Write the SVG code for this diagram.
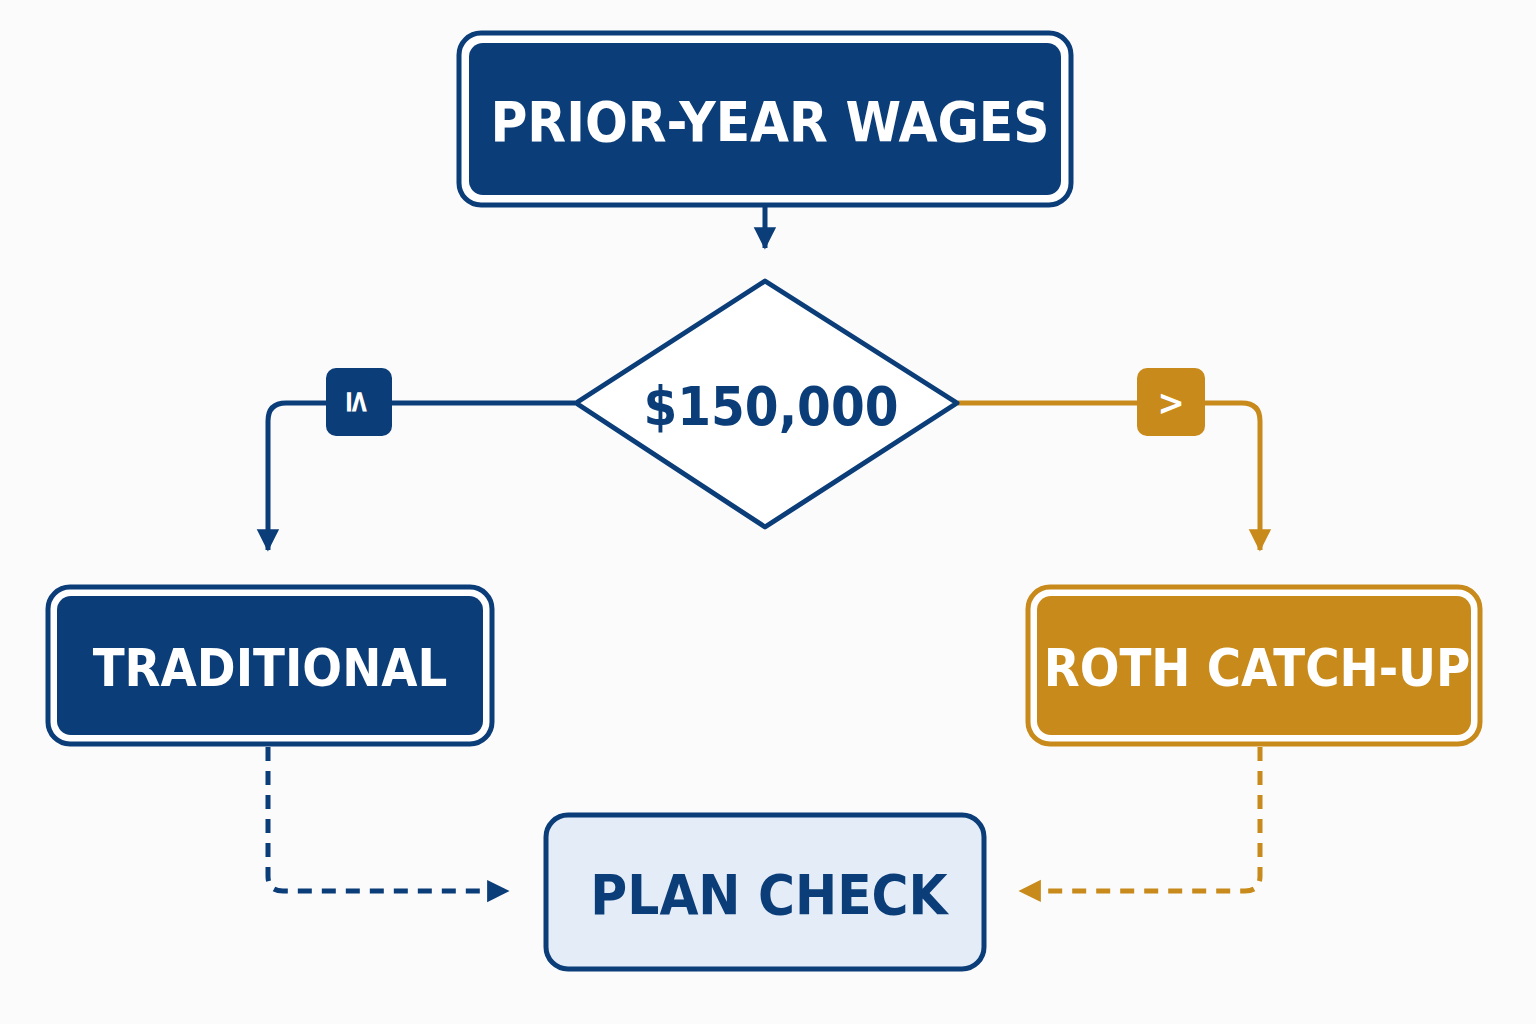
<svg xmlns="http://www.w3.org/2000/svg" width="1536" height="1024" viewBox="0 0 1536 1024">
<style>
.t{font-family:"DejaVu Sans Condensed","Liberation Sans",sans-serif;font-weight:bold;text-anchor:middle}
.nv{stroke:#0b3d78;fill:none;stroke-width:5}
.gd{stroke:#c88a1a;fill:none;stroke-width:5}
</style>
<defs>
<marker id="an" viewBox="0 0 10 10" refX="9" refY="5" markerWidth="7" markerHeight="7" markerUnits="userSpaceOnUse" orient="auto" style="overflow:visible"><path d="M0,0L10,5L0,10z" fill="#0b3d78" transform="scale(3.2) translate(-6.5,-3.4)"/></marker>
<marker id="ag" viewBox="0 0 10 10" refX="9" refY="5" markerWidth="7" markerHeight="7" markerUnits="userSpaceOnUse" orient="auto" style="overflow:visible"><path d="M0,0L10,5L0,10z" fill="#c88a1a" transform="scale(3.2) translate(-6.5,-3.4)"/></marker>
</defs>
<rect width="1536" height="1024" fill="#fbfbfc"/>
<g id="connectors">
<path class="nv" d="M765,206V248" marker-end="url(#an)"/>
<path class="nv" d="M575,403H286Q268,403 268,421V550" marker-end="url(#an)"/>
<path class="gd" d="M958,403H1242Q1260,403 1260,421V550" marker-end="url(#ag)"/>
<path class="nv" stroke-width="4" stroke-dasharray="14,10" d="M268,747V876Q268,891 283,891H508" marker-end="url(#an)"/>
<path class="gd" stroke-width="4" stroke-dasharray="14,10" d="M1260,747V876Q1260,891 1245,891H1020" marker-end="url(#ag)"/>
<g id="lbl-le"><rect x="326" y="368" width="66" height="68" rx="10" fill="#0b3d78"/><text class="t" x="359" y="414" font-size="34" fill="#fff" transform="rotate(90 359 402)">≤</text></g>
<g id="lbl-gt"><rect x="1137" y="368" width="68" height="68" rx="10" fill="#c88a1a"/><text class="t" x="1171" y="415" font-size="36" fill="#fff">&gt;</text></g>
</g>
<g id="wages"><rect x="459" y="33" width="612" height="172" rx="22" fill="#fff" stroke="#0b3d78" stroke-width="5"/><rect x="469" y="43" width="592" height="152" rx="14" fill="#0b3d78"/><text class="t" x="770" y="141" font-size="56" fill="#fff">PRIOR-YEAR WAGES</text></g>
<g id="threshold"><path d="M765,281L957,403L765,527L576,403Z" fill="#fff" stroke="#0b3d78" stroke-width="5" stroke-linejoin="round"/><text class="t" x="771" y="425" font-size="54" fill="#0b3d78">$150,000</text></g>
<g id="traditional"><rect x="48" y="587" width="444" height="157" rx="22" fill="#fff" stroke="#0b3d78" stroke-width="5"/><rect x="57" y="596" width="426" height="139" rx="14" fill="#0b3d78"/><text class="t" x="270" y="686" font-size="52" fill="#fff">TRADITIONAL</text></g>
<g id="roth"><rect x="1028" y="587" width="452" height="157" rx="22" fill="#fff" stroke="#c88a1a" stroke-width="5"/><rect x="1037" y="596" width="434" height="139" rx="14" fill="#c88a1a"/><text class="t" x="1257" y="686" font-size="52" fill="#fff">ROTH CATCH-UP</text></g>
<g id="plan"><rect x="546" y="815" width="438" height="154" rx="22" fill="#e3ecf7" stroke="#0b3d78" stroke-width="5"/><text class="t" x="769" y="914" font-size="56" fill="#0b3d78">PLAN CHECK</text></g>
</svg>
